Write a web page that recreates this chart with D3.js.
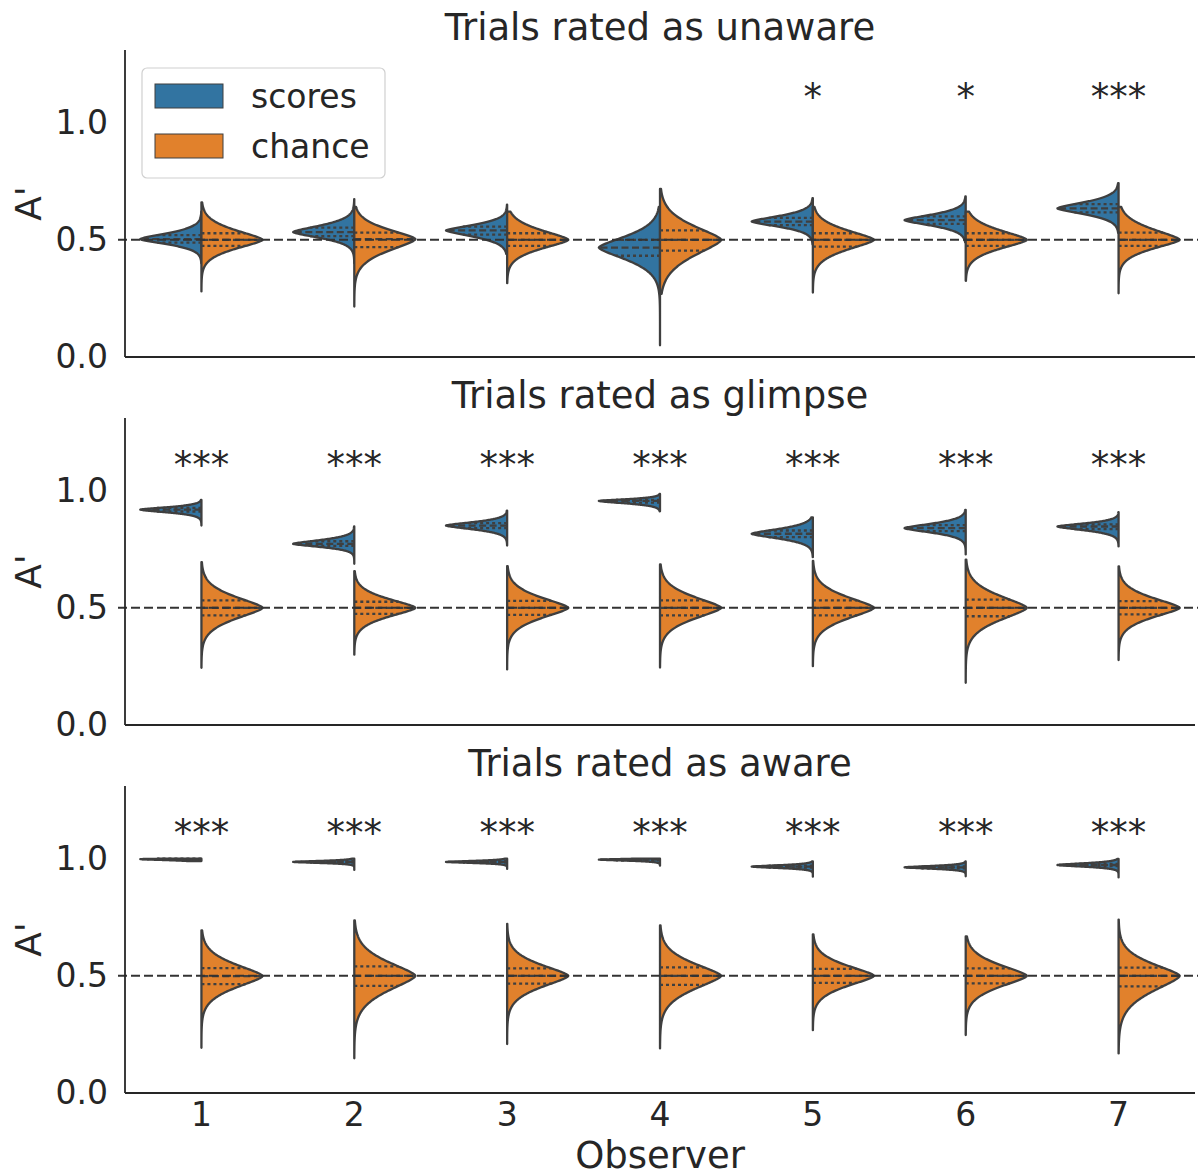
<!DOCTYPE html>
<html>
<head>
<meta charset="utf-8">
<title>A' per observer</title>
<style>
  body { margin: 0; background: #fff; }
  text { font-family: "DejaVu Sans", sans-serif; fill: #262626; }
</style>
</head>
<body>
<script src="https://d3js.org/d3.v7.min.js"></script>
<script>
// categories
var observers = ["1", "2", "3", "4", "5", "6", "7"];
var seriesNames = ["scores", "chance"];
var panelTitles = ["Trials rated as unaware", "Trials rated as glimpse", "Trials rated as aware"];
var yTicks = [0.0, 0.5, 1.0];
var chanceLevel = 0.5;
var starLevel = 1.053;

// each violin half: [min, q1, median, q3, max] of A'
var unawareScores = [[0.40, 0.488, 0.503, 0.520, 0.62], [0.40, 0.516, 0.533, 0.552, 0.674], [0.44, 0.522, 0.540, 0.556, 0.65],
  [0.05, 0.432, 0.467, 0.500, 0.64], [0.48, 0.563, 0.578, 0.594, 0.678], [0.49, 0.568, 0.584, 0.600, 0.685], [0.53, 0.617, 0.634, 0.652, 0.742]];
var unawareChance = [[0.28, 0.474, 0.500, 0.528, 0.66], [0.215, 0.469, 0.503, 0.531, 0.64], [0.315, 0.474, 0.500, 0.528, 0.62],
  [0.27, 0.454, 0.500, 0.540, 0.717], [0.275, 0.471, 0.500, 0.528, 0.64], [0.325, 0.474, 0.500, 0.528, 0.62], [0.272, 0.474, 0.500, 0.531, 0.64]];
var unawareStars = ["", "", "", "", "*", "*", "***"];

var glimpseScores = [[0.851, 0.911, 0.919, 0.926, 0.96], [0.688, 0.764, 0.773, 0.784, 0.847], [0.766, 0.840, 0.851, 0.861, 0.915],
  [0.912, 0.949, 0.956, 0.961, 0.986], [0.716, 0.802, 0.816, 0.830, 0.886], [0.728, 0.827, 0.840, 0.853, 0.918], [0.762, 0.836, 0.847, 0.856, 0.908]];
var glimpseChance = [[0.244, 0.468, 0.500, 0.532, 0.695], [0.30, 0.474, 0.500, 0.526, 0.657], [0.237, 0.470, 0.500, 0.530, 0.678],
  [0.245, 0.468, 0.500, 0.532, 0.685], [0.251, 0.468, 0.500, 0.532, 0.70], [0.18, 0.464, 0.500, 0.535, 0.706], [0.277, 0.472, 0.500, 0.529, 0.677]];
var glimpseStars = ["***", "***", "***", "***", "***", "***", "***"];

var awareScores = [[0.99, 0.995, 0.998, 0.9995, 1.0], [0.952, 0.983, 0.986, 0.989, 1.0], [0.956, 0.983, 0.986, 0.989, 1.0],
  [0.97, 0.993, 0.996, 0.998, 1.0], [0.923, 0.962, 0.966, 0.970, 0.988], [0.925, 0.959, 0.963, 0.967, 0.988], [0.92, 0.968, 0.973, 0.978, 0.999]];
var awareChance = [[0.193, 0.465, 0.499, 0.533, 0.694], [0.148, 0.457, 0.500, 0.540, 0.736], [0.209, 0.467, 0.500, 0.532, 0.722],
  [0.19, 0.461, 0.500, 0.536, 0.715], [0.268, 0.470, 0.500, 0.530, 0.677], [0.247, 0.468, 0.500, 0.532, 0.668], [0.169, 0.455, 0.500, 0.535, 0.74]];
var awareStars = ["***", "***", "***", "***", "***", "***", "***"];

var panels = [
  { title: panelTitles[0], scores: unawareScores, chance: unawareChance, stars: unawareStars },
  { title: panelTitles[1], scores: glimpseScores, chance: glimpseChance, stars: glimpseStars },
  { title: panelTitles[2], scores: awareScores, chance: awareChance, stars: awareStars }
];

const width = 1198, height = 1176;
const left = 125, right = 1195;
const panelBottoms = [357, 725, 1093];
const panelHeight = 307;
const gray = "#3f3f3f";

var color = d3.scaleOrdinal().domain(seriesNames).range(["#3274a1", "#e1812c"]);
var x = d3.scaleBand().domain(observers).range([left, right]);
var halfW = x.bandwidth() * 0.8 / 2;

var svg = d3.select("body").append("svg")
  .attr("width", width)
  .attr("height", height);

// smooth density for one half, built from its five summary values
function density(s) {
  var sLo = (s[2] - s[1]) / 0.75, sHi = (s[3] - s[2]) / 0.75;
  return function(v) {
    var z = v < s[2] ? (s[2] - v) / sLo : (v - s[2]) / sHi;
    return Math.exp(-0.5 * Math.pow(z, 1.5));
  };
}

function drawHalf(g, y, s, cx, side, fill) {
  var f = density(s);
  var grid = d3.range(0, 201).map(function(i) { return s[0] + (s[4] - s[0]) * i / 200; });
  grid = grid.concat([s[1], s[2], s[3]]).sort(d3.ascending);
  var area = d3.area()
    .y(function(v) { return y(v); })
    .x0(cx)
    .x1(function(v) { return cx + side * halfW * f(v); });
  g.append("path")
    .attr("d", area(grid) + "Z")
    .attr("fill", fill)
    .attr("stroke", gray)
    .attr("stroke-width", 2.3)
    .attr("stroke-linejoin", "round");
  // quartile lines
  [1, 2, 3].forEach(function(k) {
    g.append("line")
      .attr("x1", cx).attr("x2", cx + side * halfW * f(s[k]))
      .attr("y1", y(s[k])).attr("y2", y(s[k]))
      .attr("stroke", gray)
      .attr("stroke-width", 2.3)
      .attr("stroke-dasharray", k == 2 ? "7,3.5" : "3,3");
  });
}

panels.forEach(function(p, pi) {
  var bottom = panelBottoms[pi];
  var y = d3.scaleLinear().domain([0, 1.31]).range([bottom, bottom - panelHeight]);
  var g = svg.append("g");

  observers.forEach(function(o, i) {
    var cx = x(o) + x.bandwidth() / 2;
    drawHalf(g, y, p.scores[i], cx, -1, color("scores"));
    drawHalf(g, y, p.chance[i], cx, 1, color("chance"));
  });

  // chance reference line
  g.append("line")
    .attr("x1", left - 7).attr("x2", width)
    .attr("y1", y(chanceLevel)).attr("y2", y(chanceLevel))
    .attr("stroke", "#333")
    .attr("stroke-width", 2)
    .attr("stroke-dasharray", "9,4");

  // significance stars
  g.selectAll(".star").data(p.stars).enter().append("text")
    .attr("x", function(d, i) { return x(observers[i]) + x.bandwidth() / 2; })
    .attr("y", y(starLevel))
    .attr("text-anchor", "middle")
    .style("font-size", "37px")
    .text(function(d) { return d; });

  // y axis
  var ya = g.append("g").attr("transform", "translate(" + left + ",0)")
    .call(d3.axisLeft(y).tickValues(yTicks).tickFormat(d3.format(".1f")).tickSize(0).tickPadding(17));
  ya.select(".domain").remove();
  ya.selectAll("text").style("font-size", "33px").attr("fill", "#262626");

  // spines
  g.append("line").attr("x1", left).attr("x2", left).attr("y1", bottom - panelHeight).attr("y2", bottom)
    .attr("stroke", "#262626").attr("stroke-width", 1.8);
  g.append("line").attr("x1", left).attr("x2", right).attr("y1", bottom).attr("y2", bottom)
    .attr("stroke", "#262626").attr("stroke-width", 1.8);

  g.append("text")
    .attr("x", (left + right) / 2)
    .attr("y", bottom - panelHeight - 10)
    .attr("text-anchor", "middle")
    .style("font-size", "37px")
    .text(p.title);

  g.append("text")
    .attr("transform", "translate(41," + (bottom - panelHeight / 2) + ") rotate(-90)")
    .attr("text-anchor", "middle")
    .style("font-size", "36px")
    .text("A'");

  if (pi == 2) {
    var xa = g.append("g").attr("transform", "translate(0," + bottom + ")")
      .call(d3.axisBottom(x).tickSize(0).tickPadding(10));
    xa.select(".domain").remove();
    xa.selectAll("text").style("font-size", "33px").attr("fill", "#262626");
    g.append("text")
      .attr("x", (left + right) / 2)
      .attr("y", 1168)
      .attr("text-anchor", "middle")
      .style("font-size", "37px")
      .text("Observer");
  }
});

// legend
var lg = svg.append("g").attr("transform", "translate(142,68)");
lg.append("rect")
  .attr("width", 243).attr("height", 110).attr("rx", 5)
  .attr("fill", "#fff").attr("fill-opacity", 0.8)
  .attr("stroke", "#d0d0d0").attr("stroke-width", 1.2);
seriesNames.forEach(function(n, i) {
  lg.append("rect")
    .attr("x", 13).attr("y", 16 + i * 50)
    .attr("width", 68).attr("height", 24)
    .attr("fill", color(n)).attr("stroke", gray).attr("stroke-width", 1);
  lg.append("text")
    .attr("x", 109).attr("y", 28 + i * 50)
    .attr("dy", "0.35em")
    .style("font-size", "33px")
    .text(n);
});
</script>
</body>
</html>
